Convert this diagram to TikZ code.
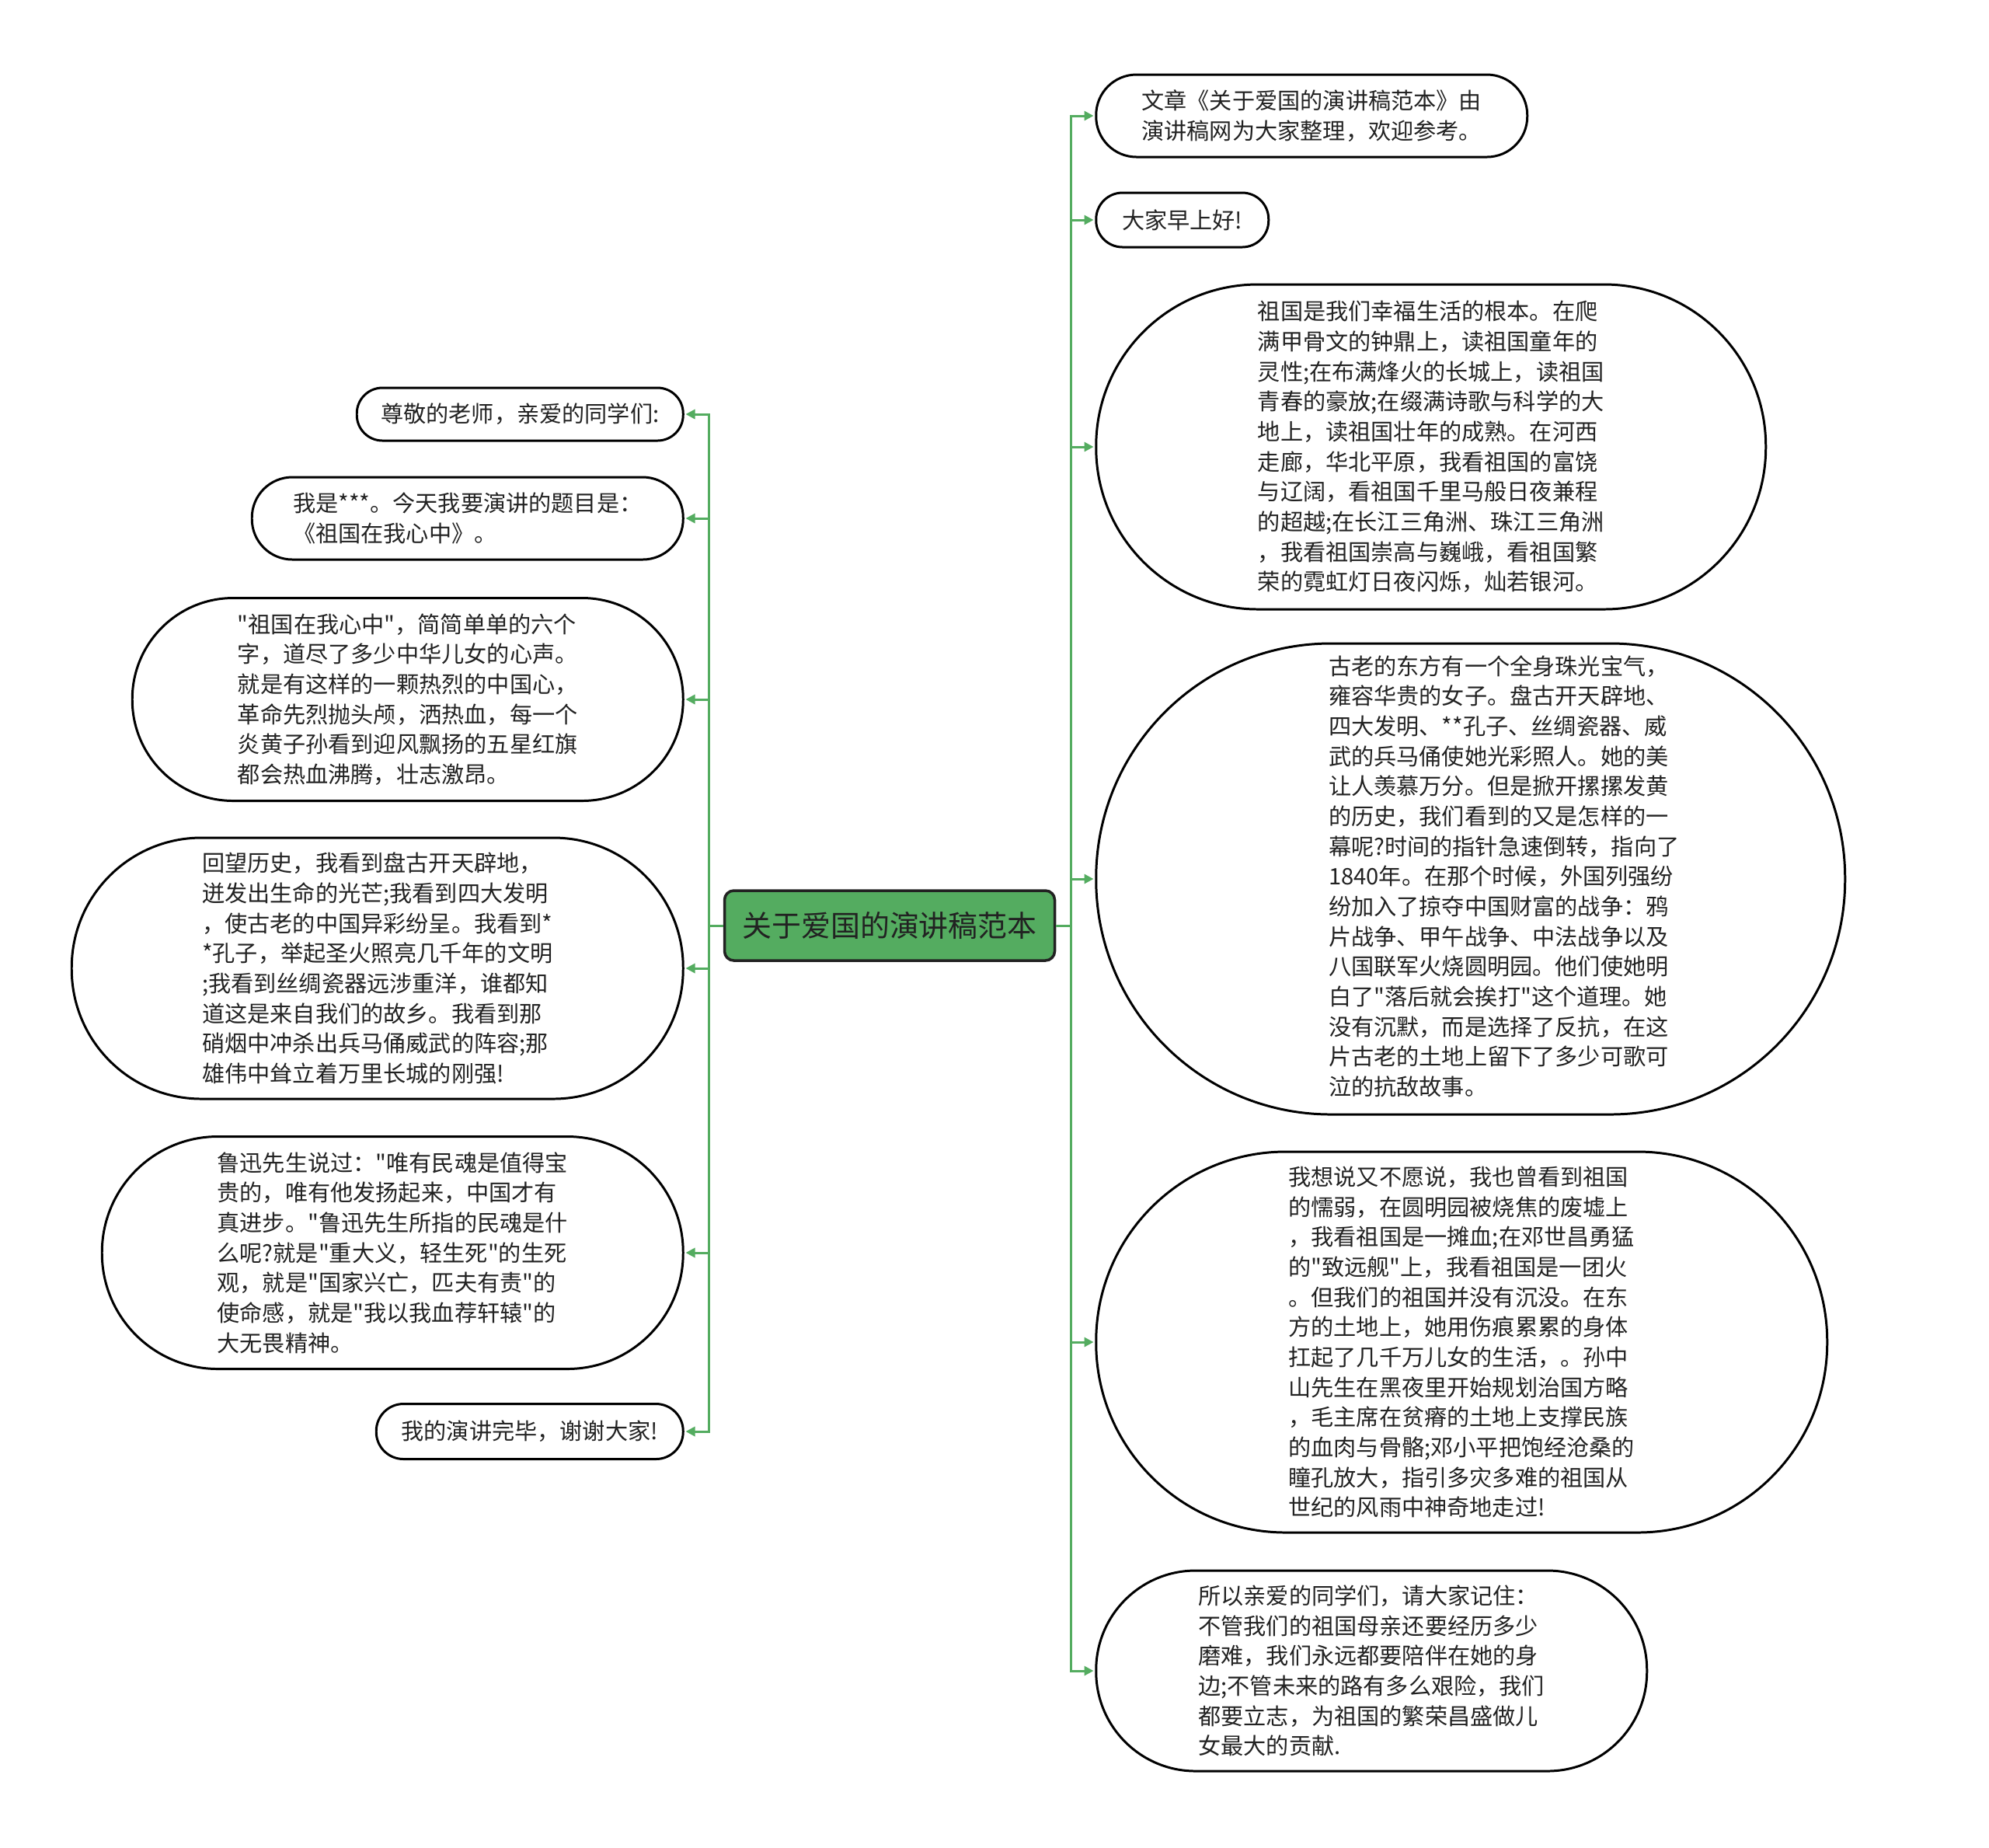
\documentclass[tikz,border=0pt]{standalone}
\usepackage{fontspec}
\newfontfamily\cjkfont{Noto Sans CJK SC}
\usepackage{xcolor}
\usepackage{tikz}
\usetikzlibrary{arrows.meta, positioning}

\definecolor{mapgreen}{RGB}{84,172,96}
\definecolor{inkgray}{RGB}{34,34,34}

\begin{document}
\begin{tikzpicture}[every node/.style={font={\cjkfont\fontsize{8.3pt}{11pt}\selectfont}}]
    % Styles
    \tikzstyle{title} = [rectangle, rounded corners=0.12cm, draw=inkgray, fill=mapgreen, line width=1pt, minimum width=4.25cm, minimum height=0.9cm, text=inkgray, font={\cjkfont\fontsize{10.8pt}{13pt}\selectfont}]
    \tikzstyle{leaf} = [rectangle, draw=black, fill=white, line width=0.85pt, inner sep=2pt, align=left, text=inkgray]
    \tikzstyle{link} = [-{Triangle[length=1.2mm, width=1.2mm]}, line width=0.85pt, mapgreen, shorten >=0.5pt]

    \useasboundingbox[fill=white] (0,0) rectangle (25.6,-23.77);

    % Nodes
    \node[title] (root) at (11.45,-11.91) {关于爱国的演讲稿范本};
    \coordinate[right=0.19cm of root] (rjoint);
    \coordinate[left=0.18cm of root] (ljoint);

    \node[leaf, right=0.5cm of root, yshift=10.42cm, minimum width=5.55cm, minimum height=1.06cm, rounded corners=0.52cm] (intro) {文章《关于爱国的演讲稿范本》由\\演讲稿网为大家整理，欢迎参考。};
    \node[leaf, right=0.5cm of root, yshift=9.08cm, minimum width=2.22cm, minimum height=0.70cm, rounded corners=0.34cm] (greet) {大家早上好!};
    \node[leaf, right=0.5cm of root, yshift=6.16cm, minimum width=8.62cm, minimum height=4.18cm, rounded corners=2.08cm] (roots) {祖国是我们幸福生活的根本。在爬\\满甲骨文的钟鼎上，读祖国童年的\\灵性;在布满烽火的长城上，读祖国\\青春的豪放;在缀满诗歌与科学的大\\地上，读祖国壮年的成熟。在河西\\走廊，华北平原，我看祖国的富饶\\与辽阔，看祖国千里马般日夜兼程\\的超越;在长江三角洲、珠江三角洲\\，我看祖国崇高与巍峨，看祖国繁\\荣的霓虹灯日夜闪烁，灿若银河。};
    % text sits a little right of centre here
    \node[leaf, right=0.5cm of root, yshift=0.60cm, minimum width=9.64cm, minimum height=6.06cm, rounded corners=3.02cm] (history) {\begin{tabular}{@{\hspace{0.86cm}}l@{}}古老的东方有一个全身珠光宝气，\\雍容华贵的女子。盘古开天辟地、\\四大发明、**孔子、丝绸瓷器、威\\武的兵马俑使她光彩照人。她的美\\让人羡慕万分。但是掀开摞摞发黄\\的历史，我们看到的又是怎样的一\\幕呢?时间的指针急速倒转，指向了\\1840年。在那个时候，外国列强纷\\纷加入了掠夺中国财富的战争：鸦\\片战争、甲午战争、中法战争以及\\八国联军火烧圆明园。他们使她明\\白了"落后就会挨打"这个道理。她\\没有沉默，而是选择了反抗，在这\\片古老的土地上留下了多少可歌可\\泣的抗敌故事。\end{tabular}};
    \node[leaf, right=0.5cm of root, yshift=-5.36cm, minimum width=9.41cm, minimum height=4.90cm, rounded corners=2.44cm] (rise) {我想说又不愿说，我也曾看到祖国\\的懦弱，在圆明园被烧焦的废墟上\\，我看祖国是一摊血;在邓世昌勇猛\\的"致远舰"上，我看祖国是一团火\\。但我们的祖国并没有沉没。在东\\方的土地上，她用伤痕累累的身体\\扛起了几千万儿女的生活，。孙中\\山先生在黑夜里开始规划治国方略\\，毛主席在贫瘠的土地上支撑民族\\的血肉与骨骼;邓小平把饱经沧桑的\\瞳孔放大，指引多灾多难的祖国从\\世纪的风雨中神奇地走过!};
    \node[leaf, right=0.5cm of root, yshift=-9.59cm, minimum width=7.09cm, minimum height=2.58cm, rounded corners=1.28cm] (vow) {所以亲爱的同学们，请大家记住：\\不管我们的祖国母亲还要经历多少\\磨难，我们永远都要陪伴在她的身\\边;不管未来的路有多么艰险，我们\\都要立志，为祖国的繁荣昌盛做儿\\女最大的贡献.};

    \node[leaf, left=0.5cm of root, yshift=6.58cm, minimum width=4.20cm, minimum height=0.68cm, rounded corners=0.33cm] (salute) {尊敬的老师，亲爱的同学们:};
    \node[leaf, left=0.5cm of root, yshift=5.24cm, minimum width=5.55cm, minimum height=1.06cm, rounded corners=0.52cm] (topic) {我是***。今天我要演讲的题目是：\\《祖国在我心中》。};
    \node[leaf, left=0.5cm of root, yshift=2.91cm, minimum width=7.09cm, minimum height=2.61cm, rounded corners=1.30cm] (heart) {"祖国在我心中"，简简单单的六个\\字，道尽了多少中华儿女的心声。\\就是有这样的一颗热烈的中国心，\\革命先烈抛头颅，洒热血，每一个\\炎黄子孙看到迎风飘扬的五星红旗\\都会热血沸腾，壮志激昂。};
    \node[leaf, left=0.5cm of root, yshift=-0.55cm, minimum width=7.87cm, minimum height=3.36cm, rounded corners=1.67cm] (glance) {回望历史，我看到盘古开天辟地，\\迸发出生命的光芒;我看到四大发明\\，使古老的中国异彩纷呈。我看到*\\*孔子，举起圣火照亮几千年的文明\\;我看到丝绸瓷器远涉重洋，谁都知\\道这是来自我们的故乡。我看到那\\硝烟中冲杀出兵马俑威武的阵容;那\\雄伟中耸立着万里长城的刚强!};
    \node[leaf, left=0.5cm of root, yshift=-4.21cm, minimum width=7.48cm, minimum height=2.99cm, rounded corners=1.49cm] (spirit) {鲁迅先生说过："唯有民魂是值得宝\\贵的，唯有他发扬起来，中国才有\\真进步。"鲁迅先生所指的民魂是什\\么呢?就是"重大义，轻生死"的生死\\观，就是"国家兴亡，匹夫有责"的\\使命感，就是"我以我血荐轩辕"的\\大无畏精神。};
    \node[leaf, left=0.5cm of root, yshift=-6.51cm, minimum width=3.95cm, minimum height=0.71cm, rounded corners=0.35cm] (thanks) {我的演讲完毕，谢谢大家!};

    % Connections
    \draw[link] (root.east) -- (rjoint) |- (intro.west);
    \draw[link] (root.east) -- (rjoint) |- (greet.west);
    \draw[link] (root.east) -- (rjoint) |- (roots.west);
    \draw[link] (root.east) -- (rjoint) |- (history.west);
    \draw[link] (root.east) -- (rjoint) |- (rise.west);
    \draw[link] (root.east) -- (rjoint) |- (vow.west);

    \draw[link] (root.west) -- (ljoint) |- (salute.east);
    \draw[link] (root.west) -- (ljoint) |- (topic.east);
    \draw[link] (root.west) -- (ljoint) |- (heart.east);
    \draw[link] (root.west) -- (ljoint) |- (glance.east);
    \draw[link] (root.west) -- (ljoint) |- (spirit.east);
    \draw[link] (root.west) -- (ljoint) |- (thanks.east);
\end{tikzpicture}
\end{document}
